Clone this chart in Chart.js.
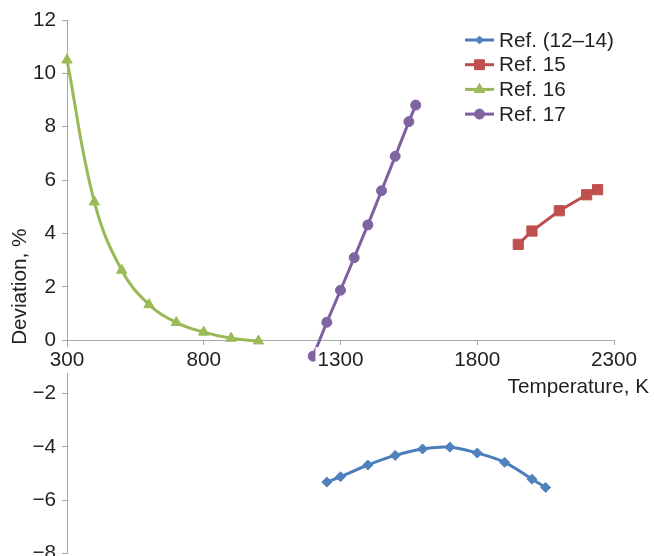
<!DOCTYPE html>
<html>
<head>
<meta charset="utf-8">
<script src="https://cdn.jsdelivr.net/npm/chart.js@4.4.0/dist/chart.umd.min.js"></script>
<style>
  html, body { margin: 0; background: #fff; }
  #frame { width: 654px; height: 556px; overflow: hidden; position: relative; }
  /* le canvas deborde en bas : le libelle -8 est coupe comme sur l'original */
  #wrap { width: 654px; height: 572px; position: relative; }
</style>
</head>
<body>
<div id="frame"><div id="wrap"><canvas id="deviationChart"></canvas></div></div>
<script>
// valeurs
const tempTicks = [300, 800, 1300, 1800, 2300];
const devTicks = [-8, -6, -4, -2, 0, 2, 4, 6, 8, 10, 12];

const ref1214T = [1250, 1300, 1400, 1500, 1600, 1700, 1800, 1900, 2000, 2050];
const ref1214D = [-5.32, -5.12, -4.68, -4.32, -4.08, -4.01, -4.23, -4.58, -5.21, -5.52];

const ref15T = [1950, 2000, 2100, 2200, 2240];
const ref15D = [3.59, 4.09, 4.85, 5.45, 5.64];

const ref16T = [300, 400, 500, 600, 700, 800, 900, 1000];
const ref16D = [10.5, 5.18, 2.62, 1.33, 0.66, 0.30, 0.07, -0.03];

const ref17T = [1200, 1250, 1300, 1350, 1400, 1450, 1500, 1550, 1575];
const ref17D = [-0.6, 0.67, 1.87, 3.09, 4.32, 5.60, 6.89, 8.19, 8.81];

const FONT = '"Liberation Sans", Arial, sans-serif';
const FSIZE = 20.7;
const TXT = '#231f20';
const AXIS = '#a6a6a6';

function pts(xs, ys) {
    return xs.map(function(x, i) { return { x: x, y: ys[i] }; });
}

function serie(label, xs, ys, line, fill, style, radius, tension) {
    return {
        label: label,
        data: pts(xs, ys),
        borderColor: line,
        backgroundColor: fill,
        pointBackgroundColor: fill,
        pointBorderColor: fill,
        pointBorderWidth: 1,
        pointStyle: style,
        pointRadius: radius,
        borderWidth: 3,
        tension: tension,
        clip: false
    };
}

// legende : trait + marqueur comme dans Excel
const legendPlugin = {
    id: 'excelLegend',
    afterDraw: function(chart) {
        const ctx = chart.ctx;
        const x0 = 465, x1 = 494, tx = 499;
        const sizes = [4, 7, 6, 5];
        chart.data.datasets.forEach(function(ds, i) {
            const y = 40 + i * 24.7;
            ctx.save();
            ctx.strokeStyle = ds.borderColor;
            ctx.lineWidth = 3;
            ctx.beginPath();
            ctx.moveTo(x0, y);
            ctx.lineTo(x1, y);
            ctx.stroke();
            ctx.fillStyle = ds.pointBackgroundColor;
            ctx.strokeStyle = ds.pointBorderColor;
            ctx.lineWidth = 1;
            Chart.helpers.drawPoint(ctx, { pointStyle: ds.pointStyle, radius: sizes[i], rotation: 0, borderWidth: 1 }, (x0 + x1) / 2, y);
            ctx.fillStyle = TXT;
            ctx.font = FSIZE + 'px ' + FONT;
            ctx.textAlign = 'left';
            ctx.textBaseline = 'middle';
            ctx.fillText(ds.label, tx, y + 1);
            ctx.restore();
        });
        // titre de l'axe x
        ctx.save();
        ctx.fillStyle = TXT;
        ctx.font = FSIZE + 'px ' + FONT;
        ctx.textAlign = 'right';
        ctx.textBaseline = 'middle';
        ctx.fillText('Temperature, K', 649, 387);
        ctx.restore();
    }
};

new Chart(document.getElementById('deviationChart').getContext('2d'), {
    type: 'line',
    data: {
        datasets: [
            serie('Ref. (12\u201314)', ref1214T, ref1214D, '#4a7ebb', '#4f81bd', 'rectRot', 5, 0.4),
            serie('Ref. 15', ref15T, ref15D, '#be4b48', '#c0504d', 'rect', 7.2, 0),
            serie('Ref. 16', ref16T, ref16D, '#98b954', '#9bbb59', 'triangle', 6, 0.4),
            serie('Ref. 17', ref17T, ref17D, '#7d60a0', '#8064a2', 'circle', 5, 0)
        ]
    },
    options: {
        responsive: true,
        maintainAspectRatio: false,
        animation: false,
        layout: {
            padding: { left: 0, top: 20, right: 40, bottom: 0 }
        },
        plugins: {
            legend: { display: false },
            tooltip: { enabled: false }
        },
        scales: {
            x: {
                type: 'linear',
                position: { y: 0 },
                min: 300,
                max: 2300,
                afterBuildTicks: function(scale) {
                    scale.ticks = tempTicks.map(function(v) { return { value: v }; });
                },
                grid: { drawOnChartArea: false, drawTicks: true, tickLength: 4, color: AXIS },
                border: { color: AXIS, width: 1 },
                ticks: {
                    z: 1,
                    padding: 4,
                    color: TXT,
                    font: { family: FONT, size: FSIZE },
                    maxRotation: 0,
                    autoSkip: false,
                    showLabelBackdrop: true,
                    backdropColor: '#ffffff',
                    backdropPadding: { top: 1, bottom: 0, left: 2, right: 2 },
                    callback: function(v) {
                        return String(v);
                    }
                }
            },
            y: {
                type: 'linear',
                min: -8,
                max: 12,
                afterBuildTicks: function(scale) {
                    scale.ticks = devTicks.map(function(v) { return { value: v }; });
                },
                afterFit: function(scale) {
                    scale.width = 67;
                },
                grid: { drawOnChartArea: false, drawTicks: true, tickLength: 5, color: AXIS },
                border: { color: AXIS, width: 1 },
                title: {
                    display: true,
                    text: 'Deviation, %',
                    color: TXT,
                    font: { family: FONT, size: FSIZE },
                    padding: { top: 8, bottom: 0 }
                },
                ticks: {
                    padding: 6,
                    color: TXT,
                    font: { family: FONT, size: FSIZE },
                    callback: function(v) {
                        return v < 0 ? '\u2212' + Math.abs(v) : String(v);
                    }
                }
            }
        }
    },
    plugins: [legendPlugin]
});
</script>
</body>
</html>
